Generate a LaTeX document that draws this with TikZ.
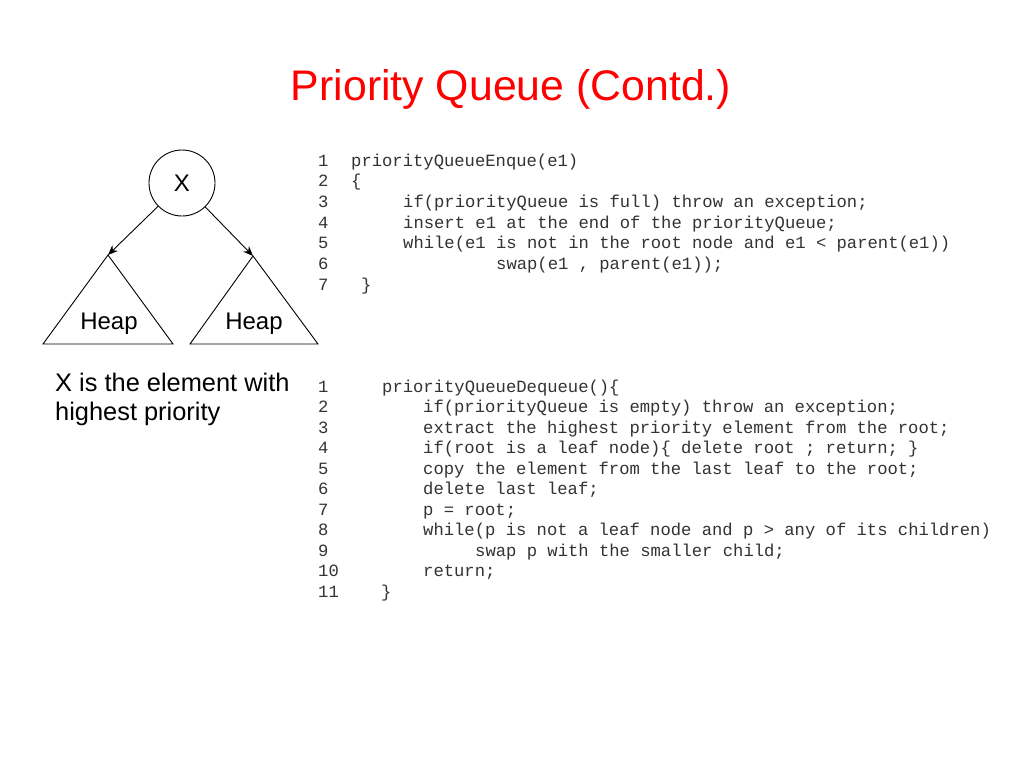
\documentclass[tikz,border=0pt]{standalone}
\usepackage{fontspec}
\setmainfont{Liberation Sans}
\newfontfamily\codefont{Liberation Mono}
\usetikzlibrary{positioning, calc, arrows.meta}
\tikzset{
    codeline/.style = {anchor=base west, inner sep=0pt, text=black!80, font=\codefont\fontsize{17.2}{20}\selectfont},
    heapedge/.style = {draw, line width=0.9pt},
}

\begin{document}
\begin{tikzpicture}[
        x=1pt, y=-1pt,
        rootnode/.style={
            circle,
            draw,
            line width=0.9pt,
            minimum size=66pt,
            inner sep=0pt,
            font=\fontsize{24}{28}\selectfont
        },
        heaptext/.style={
            inner sep=0pt,
            font=\fontsize{24}{28}\selectfont
        },
        arrow/.style={
            -{Stealth[length=10pt,width=8pt]},
            line width=0.9pt,
            black
        }
    ]
        \useasboundingbox [fill=white] (0,0) rectangle (1024,768);

        % title
        \node [anchor=base, inner sep=0pt, text=red, font=\fontsize{42.8}{48}\selectfont] (title) at (511,100) {Priority Queue (Contd.)};

        % heap picture
        \node [rootnode] (root) at (182,183) {X};
        \coordinate (apexL) at (108,255);
        \coordinate (apexR) at (253,256);
        \draw [heapedge] (apexL) -- (43,344) -- (173,344) -- cycle;
        \draw [heapedge] (apexR) -- (190,344) -- (318,344) -- cycle;
        \node [heaptext] (heapL) at (109,324) {Heap};
        \node [heaptext] (heapR) at (254,324) {Heap};
        \draw [arrow] (root) -- (apexL);
        \draw [arrow] (root) -- (apexR);

        \node [anchor=north west, inner sep=0pt, align=left, font=\fontsize{25.4}{28.5}\selectfont] (caption) at (55,373) {X is the element with\\highest priority};

        % enqueue
        \foreach \i/\x/\t in {1/351/{priorityQueueEnque(e1)},
                              2/351/{\{},
                              3/403/{if(priorityQueue is full) throw an exception;},
                              4/403/{insert e1 at the end of the priorityQueue;},
                              5/403/{while(e1 is not in the root node and e1 < parent(e1))},
                              6/496/{swap(e1 , parent(e1));},
                              7/361/{\}}} {
            \node [codeline] (enqnum\i) at (318,{166+20.67*(\i-1)}) {\i};
            \node [codeline] (enq\i) at (\x,{166+20.67*(\i-1)}) {\t};
        }

        % dequeue
        \foreach \i/\x/\t in {1/382/{priorityQueueDequeue()\{},
                              2/423/{if(priorityQueue is empty) throw an exception;},
                              3/423/{extract the highest priority element from the root;},
                              4/423/{if(root is a leaf node)\{ delete root ; return; \}},
                              5/423/{copy the element from the last leaf to the root;},
                              6/423/{delete last leaf;},
                              7/423/{p = root;},
                              8/423/{while(p is not a leaf node and p > any of its children)},
                              9/475/{swap p with the smaller child;},
                              10/423/{return;},
                              11/381/{\}}} {
            \node [codeline] (deqnum\i) at (318,{392+20.5*(\i-1)}) {\i};
            \node [codeline] (deq\i) at (\x,{392+20.5*(\i-1)}) {\t};
        }
    \end{tikzpicture}
\end{document}
